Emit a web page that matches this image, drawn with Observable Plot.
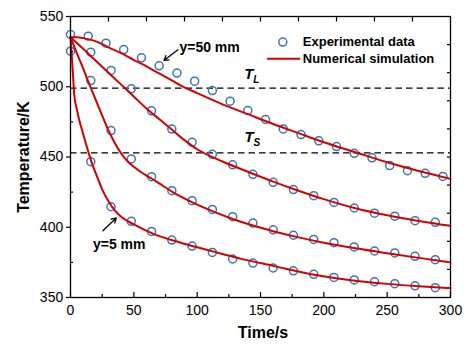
<!DOCTYPE html>
<html><head><meta charset="utf-8">
<script src="https://cdn.jsdelivr.net/npm/d3@7"></script>
<script src="https://cdn.jsdelivr.net/npm/@observablehq/plot@0.6"></script>
<style>html,body{margin:0;padding:0;background:#fff}</style>
</head><body><div id="chart"></div>
<script>
// Tick values
const xTicks = [0, 50, 100, 150, 200, 250, 300];
const xMinorTicks = [25, 75, 125, 175, 225, 275];
const xTopTicks = [30, 60, 90, 120, 150, 180, 210, 240, 270];
const yTicks = [350, 400, 450, 500, 550];
const yMinorTicks = [375, 425, 475, 525];
const yRightTicks = [370, 390, 410, 430, 450, 470, 490, 510, 530];

// Liquidus / solidus temperatures (K)
const TL = 499, TS = 453;

// Experimental data
const timeA = [0,14,28,42,56,70,84,98,112,126,140,154,168,182,196,210,224,238,252,266,280,294];
const expA  = [537.2,536.0,531.0,526.5,520.6,514.9,509.7,504.0,497.3,489.7,483.1,476.7,470.0,466.0,461.5,457.4,452.6,449.4,443.9,440.3,438.4,436.2];
const timeBC = [16,32,48,64,80,96,112,128,144,160,176,192,208,224,240,256,272,288];
const expB  = [524.6,511.6,498.5,482.9,469.9,460.5,451.9,444.4,437.7,432.0,426.8,422.5,417.7,413.7,410.0,407.9,404.7,403.5];
const expC  = [504.4,468.8,448.6,436.0,426.0,418.9,412.7,407.5,403.0,398.2,394.3,391.3,389.0,386.0,383.1,381.7,379.3,376.9];
const timeD = [0,16,32,48,64,80,96,112,128,144,160,176,192,208,224,240,256,272,288];
const expD  = [525.3,446.7,414.6,404.2,397.0,390.9,386.6,382.1,377.4,374.5,371.0,369.0,366.5,364.3,362.5,361.2,359.8,358.3,357.0];

// Numerical simulation
const simTimeA = [0,5,10,15,20,25,30,40,50,60,70,80,90,100,120,140,160,180,200,225,250,275,300];
const simA = [535.3,535.2,534.6,533.7,532.3,530.3,528.0,524.0,519.0,514.5,509.5,504.5,499.5,495.5,487.5,480.5,473.5,467.0,460.5,453.4,446.3,440.0,434.4];
const simTimeB = [0,10,20,30,40,50,60,70,80,90,100,110,120,140,160,180,200,225,250,275,300];
const simB = [535.3,527,518.5,510,501.5,493,484.5,477,469.5,462,455.5,450.8,446.8,439.5,432.5,426,420,413.5,408.5,404.5,401];
const simTimeC = [0,5,10,15,20,25,30,35,40,45,50,55,60,64,70,80,95,112,128,144,160,180,200,225,250,275,300];
const simC = [535.3,524,513,501.5,490.5,479.5,469,460,452.5,447,443,439.7,436.8,434.7,431.2,425.4,418.3,411.5,405.9,401.2,397.2,392.8,389,385,381.5,378.2,375];
const simTimeD = [0,1,2,3,5,7,9,12,15,18,21,25,30,35,40,50,65,87,103,120,135,160,190,220,250,275,300];
const simD = [535.3,522,508,494,484,476,469.5,460,451,443,436,427,418.5,412,407.5,402,395.5,389,385,381,377.5,372.5,366.5,362.5,359.7,358,356.7];

// Annotation positions (data coordinates)
const notes = [{label: "y=50 mm", t: 86, T: 528.2}, {label: "y=5 mm", t: 17.7, T: 387.4}];
const arrows = [{t1: 84.8, T1: 526.3, t2: 73.7, T2: 518.7}, {t1: 25.6, T1: 397.5, t2: 36.1, T2: 406.6}];
const phaseLabels = [{main: "T", sub: "L", t: 137.1, T: 508.9}, {main: "T", sub: "S", t: 137.3, T: 464.3}];
const legendItems = [{label: "Experimental data", t: 167.6, T: 531.8}, {label: "Numerical simulation", t: 167.6, T: 519.9}];
const legendLine = [{t: 155.8, T: 519.9}, {t: 180.7, T: 519.9}];

const toRows = (ts, vs, s) => ts.map((t, i) => ({t, T: vs[i], s}));
const exp = [...toRows(timeA, expA, "A"), ...toRows(timeBC, expB, "B"), ...toRows(timeBC, expC, "C"), ...toRows(timeD, expD, "D")];
const sim = [...toRows(simTimeA, simA, "A"), ...toRows(simTimeB, simB, "B"), ...toRows(simTimeC, simC, "C"), ...toRows(simTimeD, simD, "D")];

const blue = "#3a76b4", red = "#d40000";
const font = "'Liberation Sans', Arial, Helvetica, sans-serif";

const chart = Plot.plot({
  width: 467, height: 344,
  marginLeft: 70, marginRight: 17, marginTop: 16, marginBottom: 47,
  x: {domain: [0, 300], label: null},
  y: {domain: [350, 550], label: null},
  style: {fontFamily: font, fontSize: "14px", color: "#000", background: "#fff"},
  marks: [
    Plot.ruleY([TL, TS], {stroke: "#000", strokeWidth: 1.2, strokeDasharray: "6.5,4"}),
    Plot.dot(exp, {x: "t", y: "T", r: 4, stroke: blue, strokeWidth: 1.5, fill: "none"}),
    Plot.line(sim, {x: "t", y: "T", z: "s", stroke: red, strokeWidth: 2, curve: "monotone-x"}),
    Plot.frame({stroke: "#000", strokeWidth: 1.3}),
    // bottom axis
    Plot.axisX({ticks: xTicks, tickSize: 0, tickPadding: 8, label: null}),
    Plot.axisX({ticks: xTicks, tickSize: 5, dy: -5, fill: "none", strokeWidth: 1.2, label: null}),
    Plot.axisX({ticks: xMinorTicks, tickSize: 3, dy: -3, fill: "none", strokeWidth: 1.2, label: null}),
    // top axis
    Plot.axisX({anchor: "top", ticks: xTopTicks, tickSize: 4.5, dy: 4.5, fill: "none", strokeWidth: 1.2, label: null}),
    // left axis
    Plot.axisY({ticks: yTicks, tickSize: 4, tickPadding: 3.3, strokeWidth: 1.2, label: null}),
    Plot.axisY({ticks: yMinorTicks, tickSize: 3, dx: 3, fill: "none", strokeWidth: 1.2, label: null}),
    // right axis
    Plot.axisY({anchor: "right", ticks: yRightTicks, tickSize: 4, dx: -4, fill: "none", strokeWidth: 1.2, label: null}),
    // axis titles
    Plot.text(["Time/s"], {frameAnchor: "bottom", dx: 2.5, dy: 35, textAnchor: "middle", lineAnchor: "middle", fontWeight: "bold", fontSize: 16}),
    Plot.text(["Temperature/K"], {frameAnchor: "left", dx: -47, rotate: -90, textAnchor: "middle", lineAnchor: "middle", fontWeight: "bold", fontSize: 16}),
    // annotations
    Plot.text(notes, {x: "t", y: "T", text: "label", textAnchor: "start", lineAnchor: "middle", fontWeight: "bold", fontSize: 14}),
    Plot.arrow(arrows, {x1: "t1", y1: "T1", x2: "t2", y2: "T2", stroke: "#000", strokeWidth: 1.3, headLength: 6}),
    Plot.text(phaseLabels, {x: "t", y: "T", text: "main", textAnchor: "start", lineAnchor: "middle", fontWeight: "bold", fontStyle: "italic", fontSize: 15}),
    Plot.text(phaseLabels, {x: "t", y: "T", text: "sub", textAnchor: "start", lineAnchor: "middle", dx: 9, dy: 5.5, fontWeight: "bold", fontStyle: "italic", fontSize: 10}),
    // legend
    Plot.dot(legendItems.slice(0, 1), {x: "t", y: "T", r: 4, stroke: blue, strokeWidth: 1.5, fill: "none"}),
    Plot.line(legendLine, {x: "t", y: "T", stroke: red, strokeWidth: 2}),
    Plot.text(legendItems, {x: "t", y: "T", text: "label", dx: 20, textAnchor: "start", lineAnchor: "middle", fontWeight: "bold", fontSize: 13})
  ]
});
document.getElementById("chart").appendChild(chart);
</script>
</body></html>
